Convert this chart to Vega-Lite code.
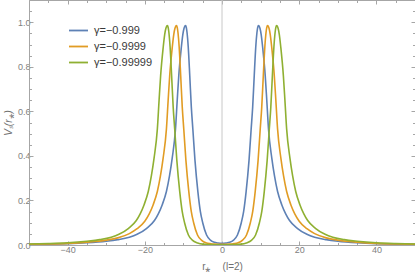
{
  "$schema": "https://vega.github.io/schema/vega-lite/v6.json",
  "width": 386,
  "height": 245,
  "autosize": "none",
  "padding": {"left": 29, "top": 0, "right": 0, "bottom": 32},
  "config": {
    "view": {"stroke": null},
    "font": "Liberation Sans",
    "axis": {
      "grid": false,
      "domainColor": "#a6a6a6",
      "tickColor": "#a6a6a6",
      "labelColor": "#808080",
      "labelFontSize": 9,
      "labelFont": "Liberation Sans",
      "titleFont": "Liberation Sans",
      "titleColor": "#707070",
      "titleFontWeight": "normal",
      "titleFontSize": 10,
      "labelOverlap": false,
      "labelFlush": false
    }
  },
  "datasets": {
    "curves": [
      {"g": "γ=−0.999", "x": -50, "y": 0.003}, {"g": "γ=−0.999", "x": -45, "y": 0.004}, {"g": "γ=−0.999", "x": -40, "y": 0.006}, {"g": "γ=−0.999", "x": -35, "y": 0.01}, {"g": "γ=−0.999", "x": -30, "y": 0.017}, {"g": "γ=−0.999", "x": -27, "y": 0.024}, {"g": "γ=−0.999", "x": -24, "y": 0.035}, {"g": "γ=−0.999", "x": -22, "y": 0.048}, {"g": "γ=−0.999", "x": -19.5, "y": 0.075}, {"g": "γ=−0.999", "x": -17.5, "y": 0.11}, {"g": "γ=−0.999", "x": -16.5, "y": 0.14}, {"g": "γ=−0.999", "x": -15.5, "y": 0.18}, {"g": "γ=−0.999", "x": -14.4, "y": 0.24}, {"g": "γ=−0.999", "x": -13.6, "y": 0.31}, {"g": "γ=−0.999", "x": -12.9, "y": 0.39}, {"g": "γ=−0.999", "x": -12.05, "y": 0.52}, {"g": "γ=−0.999", "x": -11.6, "y": 0.65}, {"g": "γ=−0.999", "x": -11.2, "y": 0.76}, {"g": "γ=−0.999", "x": -10.55, "y": 0.885}, {"g": "γ=−0.999", "x": -10.15, "y": 0.945}, {"g": "γ=−0.999", "x": -9.85, "y": 0.972}, {"g": "γ=−0.999", "x": -9.65, "y": 0.982}, {"g": "γ=−0.999", "x": -9.45, "y": 0.985}, {"g": "γ=−0.999", "x": -9.25, "y": 0.977}, {"g": "γ=−0.999", "x": -9.05, "y": 0.953}, {"g": "γ=−0.999", "x": -8.75, "y": 0.89}, {"g": "γ=−0.999", "x": -8.35, "y": 0.76}, {"g": "γ=−0.999", "x": -7.95, "y": 0.62}, {"g": "γ=−0.999", "x": -7.55, "y": 0.52}, {"g": "γ=−0.999", "x": -7, "y": 0.38}, {"g": "γ=−0.999", "x": -6.25, "y": 0.24}, {"g": "γ=−0.999", "x": -5.6, "y": 0.15}, {"g": "γ=−0.999", "x": -5, "y": 0.1}, {"g": "γ=−0.999", "x": -4, "y": 0.045}, {"g": "γ=−0.999", "x": -3, "y": 0.022}, {"g": "γ=−0.999", "x": -2, "y": 0.012}, {"g": "γ=−0.999", "x": -1, "y": 0.009},
      {"g": "γ=−0.999", "x": 0, "y": 0.008},
      {"g": "γ=−0.999", "x": 1, "y": 0.009}, {"g": "γ=−0.999", "x": 2, "y": 0.012}, {"g": "γ=−0.999", "x": 3, "y": 0.022}, {"g": "γ=−0.999", "x": 4, "y": 0.045}, {"g": "γ=−0.999", "x": 5, "y": 0.1}, {"g": "γ=−0.999", "x": 5.6, "y": 0.15}, {"g": "γ=−0.999", "x": 6.25, "y": 0.24}, {"g": "γ=−0.999", "x": 7, "y": 0.38}, {"g": "γ=−0.999", "x": 7.55, "y": 0.52}, {"g": "γ=−0.999", "x": 7.95, "y": 0.62}, {"g": "γ=−0.999", "x": 8.35, "y": 0.76}, {"g": "γ=−0.999", "x": 8.75, "y": 0.89}, {"g": "γ=−0.999", "x": 9.05, "y": 0.953}, {"g": "γ=−0.999", "x": 9.25, "y": 0.977}, {"g": "γ=−0.999", "x": 9.45, "y": 0.985}, {"g": "γ=−0.999", "x": 9.65, "y": 0.982}, {"g": "γ=−0.999", "x": 9.85, "y": 0.972}, {"g": "γ=−0.999", "x": 10.15, "y": 0.945}, {"g": "γ=−0.999", "x": 10.55, "y": 0.885}, {"g": "γ=−0.999", "x": 11.2, "y": 0.76}, {"g": "γ=−0.999", "x": 11.6, "y": 0.65}, {"g": "γ=−0.999", "x": 12.05, "y": 0.52}, {"g": "γ=−0.999", "x": 12.9, "y": 0.39}, {"g": "γ=−0.999", "x": 13.6, "y": 0.31}, {"g": "γ=−0.999", "x": 14.4, "y": 0.24}, {"g": "γ=−0.999", "x": 15.5, "y": 0.18}, {"g": "γ=−0.999", "x": 16.5, "y": 0.14}, {"g": "γ=−0.999", "x": 17.5, "y": 0.11}, {"g": "γ=−0.999", "x": 19.5, "y": 0.075}, {"g": "γ=−0.999", "x": 22, "y": 0.048}, {"g": "γ=−0.999", "x": 24, "y": 0.035}, {"g": "γ=−0.999", "x": 27, "y": 0.024}, {"g": "γ=−0.999", "x": 30, "y": 0.017}, {"g": "γ=−0.999", "x": 35, "y": 0.01}, {"g": "γ=−0.999", "x": 40, "y": 0.006}, {"g": "γ=−0.999", "x": 45, "y": 0.004}, {"g": "γ=−0.999", "x": 50, "y": 0.003},

      {"g": "γ=−0.9999", "x": -50, "y": 0.0035}, {"g": "γ=−0.9999", "x": -45, "y": 0.0048}, {"g": "γ=−0.9999", "x": -40, "y": 0.0075}, {"g": "γ=−0.9999", "x": -35, "y": 0.013}, {"g": "γ=−0.9999", "x": -30, "y": 0.022}, {"g": "γ=−0.9999", "x": -27, "y": 0.032}, {"g": "γ=−0.9999", "x": -24, "y": 0.051}, {"g": "γ=−0.9999", "x": -22, "y": 0.073}, {"g": "γ=−0.9999", "x": -20, "y": 0.107}, {"g": "γ=−0.9999", "x": -18.85, "y": 0.14}, {"g": "γ=−0.9999", "x": -17.85, "y": 0.18}, {"g": "γ=−0.9999", "x": -16.75, "y": 0.24}, {"g": "γ=−0.9999", "x": -15.95, "y": 0.31}, {"g": "γ=−0.9999", "x": -15.25, "y": 0.39}, {"g": "γ=−0.9999", "x": -14.4, "y": 0.52}, {"g": "γ=−0.9999", "x": -13.95, "y": 0.65}, {"g": "γ=−0.9999", "x": -13.55, "y": 0.76}, {"g": "γ=−0.9999", "x": -12.9, "y": 0.885}, {"g": "γ=−0.9999", "x": -12.5, "y": 0.945}, {"g": "γ=−0.9999", "x": -12.2, "y": 0.972}, {"g": "γ=−0.9999", "x": -12, "y": 0.982}, {"g": "γ=−0.9999", "x": -11.8, "y": 0.985}, {"g": "γ=−0.9999", "x": -11.6, "y": 0.977}, {"g": "γ=−0.9999", "x": -11.4, "y": 0.953}, {"g": "γ=−0.9999", "x": -11.1, "y": 0.89}, {"g": "γ=−0.9999", "x": -10.7, "y": 0.76}, {"g": "γ=−0.9999", "x": -10.3, "y": 0.62}, {"g": "γ=−0.9999", "x": -9.9, "y": 0.52}, {"g": "γ=−0.9999", "x": -9.35, "y": 0.38}, {"g": "γ=−0.9999", "x": -8.6, "y": 0.24}, {"g": "γ=−0.9999", "x": -7.95, "y": 0.15}, {"g": "γ=−0.9999", "x": -7.35, "y": 0.1}, {"g": "γ=−0.9999", "x": -6.35, "y": 0.045}, {"g": "γ=−0.9999", "x": -5.35, "y": 0.022}, {"g": "γ=−0.9999", "x": -4, "y": 0.009}, {"g": "γ=−0.9999", "x": -3, "y": 0.006}, {"g": "γ=−0.9999", "x": -2, "y": 0.004},
      {"g": "γ=−0.9999", "x": 0, "y": 0.003},
      {"g": "γ=−0.9999", "x": 2, "y": 0.004}, {"g": "γ=−0.9999", "x": 3, "y": 0.006}, {"g": "γ=−0.9999", "x": 4, "y": 0.009}, {"g": "γ=−0.9999", "x": 5.35, "y": 0.022}, {"g": "γ=−0.9999", "x": 6.35, "y": 0.045}, {"g": "γ=−0.9999", "x": 7.35, "y": 0.1}, {"g": "γ=−0.9999", "x": 7.95, "y": 0.15}, {"g": "γ=−0.9999", "x": 8.6, "y": 0.24}, {"g": "γ=−0.9999", "x": 9.35, "y": 0.38}, {"g": "γ=−0.9999", "x": 9.9, "y": 0.52}, {"g": "γ=−0.9999", "x": 10.3, "y": 0.62}, {"g": "γ=−0.9999", "x": 10.7, "y": 0.76}, {"g": "γ=−0.9999", "x": 11.1, "y": 0.89}, {"g": "γ=−0.9999", "x": 11.4, "y": 0.953}, {"g": "γ=−0.9999", "x": 11.6, "y": 0.977}, {"g": "γ=−0.9999", "x": 11.8, "y": 0.985}, {"g": "γ=−0.9999", "x": 12, "y": 0.982}, {"g": "γ=−0.9999", "x": 12.2, "y": 0.972}, {"g": "γ=−0.9999", "x": 12.5, "y": 0.945}, {"g": "γ=−0.9999", "x": 12.9, "y": 0.885}, {"g": "γ=−0.9999", "x": 13.55, "y": 0.76}, {"g": "γ=−0.9999", "x": 13.95, "y": 0.65}, {"g": "γ=−0.9999", "x": 14.4, "y": 0.52}, {"g": "γ=−0.9999", "x": 15.25, "y": 0.39}, {"g": "γ=−0.9999", "x": 15.95, "y": 0.31}, {"g": "γ=−0.9999", "x": 16.75, "y": 0.24}, {"g": "γ=−0.9999", "x": 17.85, "y": 0.18}, {"g": "γ=−0.9999", "x": 18.85, "y": 0.14}, {"g": "γ=−0.9999", "x": 20, "y": 0.107}, {"g": "γ=−0.9999", "x": 22, "y": 0.073}, {"g": "γ=−0.9999", "x": 24, "y": 0.051}, {"g": "γ=−0.9999", "x": 27, "y": 0.032}, {"g": "γ=−0.9999", "x": 30, "y": 0.022}, {"g": "γ=−0.9999", "x": 35, "y": 0.013}, {"g": "γ=−0.9999", "x": 40, "y": 0.0075}, {"g": "γ=−0.9999", "x": 45, "y": 0.0048}, {"g": "γ=−0.9999", "x": 50, "y": 0.0035},

      {"g": "γ=−0.99999", "x": -50, "y": 0.0045}, {"g": "γ=−0.99999", "x": -45, "y": 0.0065}, {"g": "γ=−0.99999", "x": -40, "y": 0.01}, {"g": "γ=−0.99999", "x": -35, "y": 0.017}, {"g": "γ=−0.99999", "x": -31.7, "y": 0.024}, {"g": "γ=−0.99999", "x": -28.7, "y": 0.035}, {"g": "γ=−0.99999", "x": -26.7, "y": 0.048}, {"g": "γ=−0.99999", "x": -24.2, "y": 0.075}, {"g": "γ=−0.99999", "x": -22.2, "y": 0.11}, {"g": "γ=−0.99999", "x": -21.2, "y": 0.14}, {"g": "γ=−0.99999", "x": -20.2, "y": 0.18}, {"g": "γ=−0.99999", "x": -19.1, "y": 0.24}, {"g": "γ=−0.99999", "x": -18.3, "y": 0.31}, {"g": "γ=−0.99999", "x": -17.6, "y": 0.39}, {"g": "γ=−0.99999", "x": -16.75, "y": 0.52}, {"g": "γ=−0.99999", "x": -16.3, "y": 0.65}, {"g": "γ=−0.99999", "x": -15.9, "y": 0.76}, {"g": "γ=−0.99999", "x": -15.25, "y": 0.885}, {"g": "γ=−0.99999", "x": -14.85, "y": 0.945}, {"g": "γ=−0.99999", "x": -14.55, "y": 0.972}, {"g": "γ=−0.99999", "x": -14.35, "y": 0.982}, {"g": "γ=−0.99999", "x": -14.15, "y": 0.985}, {"g": "γ=−0.99999", "x": -13.95, "y": 0.977}, {"g": "γ=−0.99999", "x": -13.75, "y": 0.953}, {"g": "γ=−0.99999", "x": -13.45, "y": 0.89}, {"g": "γ=−0.99999", "x": -13.05, "y": 0.76}, {"g": "γ=−0.99999", "x": -12.65, "y": 0.62}, {"g": "γ=−0.99999", "x": -12.25, "y": 0.52}, {"g": "γ=−0.99999", "x": -11.7, "y": 0.38}, {"g": "γ=−0.99999", "x": -10.95, "y": 0.24}, {"g": "γ=−0.99999", "x": -10.3, "y": 0.15}, {"g": "γ=−0.99999", "x": -9.7, "y": 0.1}, {"g": "γ=−0.99999", "x": -8.7, "y": 0.045}, {"g": "γ=−0.99999", "x": -7.7, "y": 0.022}, {"g": "γ=−0.99999", "x": -6.3, "y": 0.009}, {"g": "γ=−0.99999", "x": -5, "y": 0.004}, {"g": "γ=−0.99999", "x": -3, "y": 0.002},
      {"g": "γ=−0.99999", "x": 0, "y": 0.001},
      {"g": "γ=−0.99999", "x": 3, "y": 0.002}, {"g": "γ=−0.99999", "x": 5, "y": 0.004}, {"g": "γ=−0.99999", "x": 6.3, "y": 0.009}, {"g": "γ=−0.99999", "x": 7.7, "y": 0.022}, {"g": "γ=−0.99999", "x": 8.7, "y": 0.045}, {"g": "γ=−0.99999", "x": 9.7, "y": 0.1}, {"g": "γ=−0.99999", "x": 10.3, "y": 0.15}, {"g": "γ=−0.99999", "x": 10.95, "y": 0.24}, {"g": "γ=−0.99999", "x": 11.7, "y": 0.38}, {"g": "γ=−0.99999", "x": 12.25, "y": 0.52}, {"g": "γ=−0.99999", "x": 12.65, "y": 0.62}, {"g": "γ=−0.99999", "x": 13.05, "y": 0.76}, {"g": "γ=−0.99999", "x": 13.45, "y": 0.89}, {"g": "γ=−0.99999", "x": 13.75, "y": 0.953}, {"g": "γ=−0.99999", "x": 13.95, "y": 0.977}, {"g": "γ=−0.99999", "x": 14.15, "y": 0.985}, {"g": "γ=−0.99999", "x": 14.35, "y": 0.982}, {"g": "γ=−0.99999", "x": 14.55, "y": 0.972}, {"g": "γ=−0.99999", "x": 14.85, "y": 0.945}, {"g": "γ=−0.99999", "x": 15.25, "y": 0.885}, {"g": "γ=−0.99999", "x": 15.9, "y": 0.76}, {"g": "γ=−0.99999", "x": 16.3, "y": 0.65}, {"g": "γ=−0.99999", "x": 16.75, "y": 0.52}, {"g": "γ=−0.99999", "x": 17.6, "y": 0.39}, {"g": "γ=−0.99999", "x": 18.3, "y": 0.31}, {"g": "γ=−0.99999", "x": 19.1, "y": 0.24}, {"g": "γ=−0.99999", "x": 20.2, "y": 0.18}, {"g": "γ=−0.99999", "x": 21.2, "y": 0.14}, {"g": "γ=−0.99999", "x": 22.2, "y": 0.11}, {"g": "γ=−0.99999", "x": 24.2, "y": 0.075}, {"g": "γ=−0.99999", "x": 26.7, "y": 0.048}, {"g": "γ=−0.99999", "x": 28.7, "y": 0.035}, {"g": "γ=−0.99999", "x": 31.7, "y": 0.024}, {"g": "γ=−0.99999", "x": 35, "y": 0.017}, {"g": "γ=−0.99999", "x": 40, "y": 0.01}, {"g": "γ=−0.99999", "x": 45, "y": 0.0065}, {"g": "γ=−0.99999", "x": 50, "y": 0.0045}
    ],
    "axisline": [{"x": 0, "y": 0, "y2": 1.1}]
  },
  "layer": [
    {
      "data": {"name": "axisline"},
      "mark": {"type": "rule", "color": "#c8c8c8", "strokeWidth": 1},
      "encoding": {
        "x": {"field": "x", "type": "quantitative", "scale": {"domain": [-50, 50], "nice": false},
          "axis": {"orient": "top", "title": null, "labels": false,
            "values": [-50, -45, -40, -35, -30, -25, -20, -15, -10, -5, 0, 5, 10, 15, 20, 25, 30, 35, 40, 45, 50],
            "tickSize": {"condition": {"test": "datum.value % 20 == 0", "value": -4}, "value": -2.5}}},
        "y": {"field": "y", "type": "quantitative", "scale": {"domain": [0, 1.1], "nice": false},
          "axis": {"orient": "right", "title": null, "labels": false,
            "values": [0, 0.05, 0.1, 0.15, 0.2, 0.25, 0.3, 0.35, 0.4, 0.45, 0.5, 0.55, 0.6, 0.65, 0.7, 0.75, 0.8, 0.85, 0.9, 0.95, 1, 1.05, 1.1],
            "tickSize": {"condition": {"test": "round(datum.value*20) % 4 == 0", "value": -4}, "value": -2.5}}},
        "y2": {"field": "y2"}
      }
    },
    {
      "data": {"name": "curves"},
      "mark": {"type": "line", "strokeWidth": 1.6, "interpolate": "monotone", "clip": true},
      "encoding": {
        "x": {"field": "x", "type": "quantitative", "scale": {"domain": [-50, 50], "nice": false},
          "axis": {"orient": "bottom", "title": "r⁎\u00a0\u00a0\u00a0\u00a0(l=2)", "titlePadding": 6,
            "values": [-50, -45, -40, -35, -30, -25, -20, -15, -10, -5, 0, 5, 10, 15, 20, 25, 30, 35, 40, 45, 50],
            "labelExpr": "datum.value % 20 == 0 && abs(datum.value) < 50 ? datum.label : ''",
            "labelPadding": 4,
            "tickSize": {"condition": {"test": "datum.value % 20 == 0", "value": -4}, "value": -2.5}}},
        "y": {"field": "y", "type": "quantitative", "scale": {"domain": [0, 1.1], "nice": false},
          "axis": {"orient": "left", "title": "Vₛ(r⁎)", "titleFontStyle": "italic", "titlePadding": 4,
            "values": [0, 0.05, 0.1, 0.15, 0.2, 0.25, 0.3, 0.35, 0.4, 0.45, 0.5, 0.55, 0.6, 0.65, 0.7, 0.75, 0.8, 0.85, 0.9, 0.95, 1, 1.05, 1.1],
            "labelExpr": "round(datum.value*20) % 4 == 0 ? format(datum.value, '.1f') : ''",
            "labelPadding": 3,
            "tickSize": {"condition": {"test": "round(datum.value*20) % 4 == 0", "value": -4}, "value": -2.5}}},
        "color": {"field": "g", "type": "nominal",
          "scale": {"domain": ["γ=−0.999", "γ=−0.9999", "γ=−0.99999"], "range": ["#5e81b5", "#e19c24", "#8fb032"]},
          "legend": {"orient": "none", "legendX": 39, "legendY": 20, "title": null,
            "symbolType": "stroke", "symbolStrokeWidth": 1.8, "symbolSize": 361,
            "labelFontSize": 11, "labelColor": "#3a3a3a", "labelOffset": 5, "rowPadding": 0, "labelFont": "Liberation Sans"}}
      }
    }
  ],
  "resolve": {"axis": {"x": "independent", "y": "independent"}}
}
